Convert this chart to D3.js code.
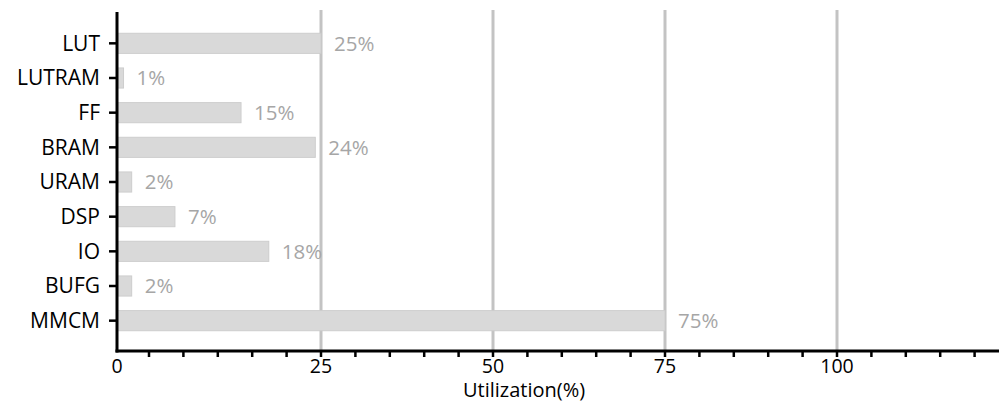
<!DOCTYPE html>
<html><head><meta charset="utf-8">
<script src="https://cdn.jsdelivr.net/npm/d3@7"></script>
<style>body{margin:0;background:#fff}svg{display:block}</style>
</head><body>
<svg id="c" width="999" height="405"></svg>
<script>
const categories = ["LUT","LUTRAM","FF","BRAM","URAM","DSP","IO","BUFG","MMCM"];
const values = [25, 0.8, 15.2, 24.3, 1.8, 7.1, 18.6, 1.8, 75];
const valueLabels = ["25%","1%","15%","24%","2%","7%","18%","2%","75%"];
const majorTicks = [0, 25, 50, 75, 100];
const minorTicks = d3.range(0, 125, 5);
const xTitle = "Utilization(%)";

const svg = d3.select("#c");
const font = "'Open Sans', sans-serif";
const axisY = 351, axisX = 117;

// bar/grid scale (as drawn in the reference, piecewise)
const x = d3.scaleLinear().domain([0, 25, 125]).range([117, 321, 1009]);
// minor tick scale (uniform spacing)
const xt = d3.scaleLinear().domain([0, 125]).range([149, 1009]);
const y = d3.scaleBand().domain(categories).range([26, 338]).paddingInner(0.42).paddingOuter(0.21);

// gridlines
svg.append("g").selectAll("line").data(majorTicks.filter(d => d > 0)).join("line")
  .attr("x1", d => x(d)).attr("x2", d => x(d)).attr("y1", 10).attr("y2", axisY)
  .attr("stroke", "#c3c3c3").attr("stroke-width", 3);

// bars
svg.append("g").selectAll("rect").data(categories).join("rect")
  .attr("x", x(0)).attr("y", d => y(d))
  .attr("width", (d, i) => x(values[i]) - x(0))
  .attr("height", y.bandwidth())
  .attr("fill", "#d9d9d9").attr("stroke", "#cdcdcd").attr("stroke-width", 1);

// value labels
svg.append("g").selectAll("text").data(categories).join("text")
  .attr("x", (d, i) => x(values[i]) + 13)
  .attr("y", d => y(d) + y.bandwidth() / 2)
  .attr("dy", "0.35em")
  .attr("font-family", font).attr("font-size", 20.5).attr("fill", "#a6a6a6")
  .text((d, i) => valueLabels[i]);

// x axis
const xAxis = svg.append("g");
xAxis.append("line").attr("x1", axisX - 1.5).attr("x2", 999).attr("y1", axisY).attr("y2", axisY)
  .attr("stroke", "#000").attr("stroke-width", 3);
xAxis.selectAll("line.mt").data(minorTicks).join("line").attr("class", "mt")
  .attr("x1", d => xt(d)).attr("x2", d => xt(d)).attr("y1", axisY).attr("y2", axisY + 6)
  .attr("stroke", "#000").attr("stroke-width", 2.5);
xAxis.selectAll("text").data(majorTicks).join("text")
  .attr("x", d => x(d)).attr("y", 372.5)
  .attr("text-anchor", "middle")
  .attr("font-family", font).attr("font-size", 19.5).attr("fill", "#000")
  .text(d => d);
svg.append("text").attr("x", 524).attr("y", 397)
  .attr("text-anchor", "middle").attr("font-family", font).attr("font-size", 20).attr("fill", "#000")
  .text(xTitle);

// y axis
const yAxis = svg.append("g");
yAxis.append("line").attr("x1", axisX).attr("x2", axisX).attr("y1", 12).attr("y2", axisY + 1.5)
  .attr("stroke", "#000").attr("stroke-width", 3);
yAxis.selectAll("line.t").data(categories).join("line").attr("class", "t")
  .attr("x1", axisX - 8).attr("x2", axisX).attr("y1", d => y(d) + y.bandwidth() / 2).attr("y2", d => y(d) + y.bandwidth() / 2)
  .attr("stroke", "#000").attr("stroke-width", 2.5);
yAxis.selectAll("text").data(categories).join("text")
  .attr("x", 100).attr("y", d => y(d) + y.bandwidth() / 2).attr("dy", "0.35em")
  .attr("text-anchor", "end").attr("font-family", font).attr("font-size", 21).attr("fill", "#000")
  .text(d => d);
</script>
</body></html>
